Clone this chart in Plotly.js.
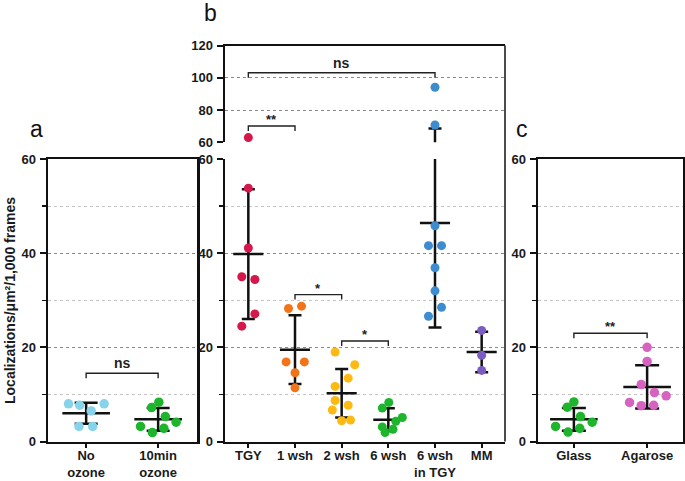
<!DOCTYPE html>
<html><head><meta charset="utf-8">
<script src="https://cdn.plot.ly/plotly-3.0.1.min.js"></script>
<style>body{margin:0;background:#fff}#chart{width:685px;height:481px}</style>
</head><body><div id="chart"></div>
<script>
// ---------- Panel a ----------
const catsA = ['No<br>ozone', '10min<br>ozone'];
const noOzone = [8.0, 7.7, 8.0, 6.5, 3.2, 3.2];
const noOzoneJit = [-0.245, -0.09, 0.25, 0.07, -0.1, 0.09];
const ozone10 = [7.2, 8.35, 5.3, 4.1, 3.2, 1.9, 2.8];
const ozone10Jit = [-0.09, 0.01, 0.10, 0.25, -0.245, -0.08, 0.08];
const meanA = [6.0, 4.7];
const sdA = [2.25, 2.4];
const sigA = [{from: 0, to: 1, level: 14.5, label: 'ns'}];

// ---------- Panel b ----------
const catsB = ['TGY', '1 wsh', '2 wsh', '6 wsh', '6 wsh<br>in TGY', 'MM'];
const tgy = [62.9, 53.8, 41.1, 35.0, 34.4, 27.1, 24.5];
const tgyJit = [0, 0, 0, -0.14, 0.14, 0.14, -0.14];
const wsh1 = [28.25, 28.75, 16.9, 16.9, 14.6, 11.4];
const wsh1Jit = [-0.14, 0.14, -0.19, 0.2, 0, 0];
const wsh2 = [19.0, 16.3, 11.7, 13.45, 8.7, 7.7, 6.7, 4.4, 4.55];
const wsh2Jit = [-0.14, 0.28, -0.14, 0.14, -0.14, 0.14, -0.2, 0, 0.19];
const wsh6 = [8.3, 7.1, 5.1, 4.3, 3.1, 2.6, 1.9];
const wsh6Jit = [0.01, -0.13, 0.3, 0.16, -0.13, 0.1, -0.07];
const wsh6TGY = [94.1, 70.7, 45.8, 41.6, 41.6, 36.9, 32.0, 28.5, 26.6];
const wsh6TGYJit = [0, 0, 0, -0.14, 0.14, 0, 0, 0.14, -0.14];
const mm = [23.6, 18.3, 15.1];
const mmJit = [0, 0, 0];
const meanB = [39.8, 19.5, 10.25, 4.64, 46.4, 19.0];
const sdB = [13.8, 7.3, 5.15, 2.4, 22.2, 4.3];
const sigB = [
  {from: 0, to: 4, level: 103.1, label: 'ns', upper: true},
  {from: 0, to: 1, level: 70.1, label: '**', upper: true},
  {from: 1, to: 2, level: 31.2, label: '*'},
  {from: 2, to: 3, level: 21.35, label: '*'}
];

// ---------- Panel c ----------
const catsC = ['Glass', 'Agarose'];
const glass = [7.3, 8.4, 5.3, 4.1, 3.2, 2.0, 2.8];
const glassJit = [-0.09, 0, 0.09, 0.25, -0.25, -0.08, 0.08];
const agarose = [20.0, 17.0, 12.1, 10.4, 9.7, 8.3, 7.6, 7.7];
const agaroseJit = [0, 0, -0.08, 0.1, 0.26, -0.24, -0.08, 0.09];
const meanC = [4.7, 11.6];
const sdC = [2.4, 4.6];
const sigC = [{from: 0, to: 1, level: 23.0, label: '**'}];

// ---------- styles ----------
const W = 685, H = 481;
const FONT = 'Liberation Sans, Arial, Helvetica, sans-serif';
const COL = {
  lightblue: '#86d3ea', green: '#1db52c', crimson: '#d5174b', orange: '#f2741a',
  gold: '#fdba12', blue: '#3d8ccf', purple: '#7b5dc2', pink: '#d763c0'
};
const px = v => v / W, py = v => (H - v) / H;
const domA = [px(48), px(197)], domB = [px(225), px(505)], domC = [px(538), px(683)];
const domLow = [py(441.5), py(159)], domUp = [py(142.3), py(45.5)];

const traces = [];
function meanTrace(means, sds, xa, ya, size, cap) {
  return {type: 'scatter', mode: 'markers', x: means.map((_, i) => i), y: means,
    xaxis: xa, yaxis: ya, hoverinfo: 'skip', cliponaxis: true, showlegend: false,
    marker: {symbol: 'line-ew', size: size, color: '#111', line: {width: 2.5, color: '#111'}},
    error_y: {type: 'data', array: sds, visible: true, color: '#111', thickness: 2.5, width: cap}};
}
function ptsTrace(vals, jit, idx, color, xa, ya, size) {
  return {type: 'scatter', mode: 'markers', x: vals.map((_, i) => idx + jit[i]), y: vals,
    xaxis: xa, yaxis: ya, hoverinfo: 'skip', cliponaxis: true, showlegend: false,
    marker: {color: color, size: size, line: {width: 0}}};
}
// panel a
traces.push(meanTrace(meanA, sdA, 'x', 'y', 34, 11.5));
traces.push(ptsTrace(noOzone, noOzoneJit, 0, COL.lightblue, 'x', 'y', 9.5));
traces.push(ptsTrace(ozone10, ozone10Jit, 1, COL.green, 'x', 'y', 9.5));
// panel b (lower x2/y2 and upper x3/y3)
const groupsB = [[tgy, tgyJit, COL.crimson], [wsh1, wsh1Jit, COL.orange], [wsh2, wsh2Jit, COL.gold],
  [wsh6, wsh6Jit, COL.green], [wsh6TGY, wsh6TGYJit, COL.blue], [mm, mmJit, COL.purple]];
[['x2', 'y2'], ['x3', 'y3']].forEach(([xa, ya]) => {
  traces.push(meanTrace(meanB, sdB, xa, ya, 21.5, 6.5));
  groupsB.forEach(([v, j, c], i) => traces.push(ptsTrace(v, j, i, c, xa, ya, 9)));
});
// panel c
traces.push(meanTrace(meanC, sdC, 'x4', 'y4', 34, 12));
traces.push(ptsTrace(glass, glassJit, 0, COL.green, 'x4', 'y4', 9.5));
traces.push(ptsTrace(agarose, agaroseJit, 1, COL.pink, 'x4', 'y4', 9.5));

// ---------- axes ----------
const tickfont = {family: FONT, size: 13, color: '#1a1a1a', weight: 'bold'};
function xAx(domain, range, cats, anchor, mirror) {
  return {domain: domain, range: range, anchor: anchor, tickvals: cats.map((_, i) => i), ticktext: cats,
    showline: true, linewidth: 2.5, linecolor: '#111', mirror: mirror, ticks: 'outside', ticklen: 4,
    tickwidth: 2, tickcolor: '#111', showgrid: false, zeroline: false, tickfont: tickfont, fixedrange: true,
    ticklabelstandoff: -4};
}
function yAx(domain, range, anchor, mirror, minor) {
  const ax = {domain: domain, range: range, anchor: anchor, dtick: 20, tick0: 0,
    showline: true, linewidth: 2.5, linecolor: '#111', mirror: mirror, ticks: 'outside', ticklen: 6,
    tickwidth: 2, tickcolor: '#111', showgrid: true, gridcolor: '#8a8a8a', griddash: 'dot', gridwidth: 1,
    zeroline: false, tickfont: tickfont, fixedrange: true, ticklabelstandoff: 1};
  if (minor) ax.minor = {dtick: 10, ticks: 'outside', ticklen: 4, tickwidth: 1.5, tickcolor: '#111',
    showgrid: true, gridcolor: '#c4c4c4', griddash: 'dot', gridwidth: 1};
  return ax;
}
const layout = {
  width: W, height: H, margin: {l: 0, r: 0, t: 0, b: 0}, paper_bgcolor: '#fff', plot_bgcolor: 'rgba(0,0,0,0)',
  showlegend: false, font: {family: FONT, color: '#1a1a1a'},
  xaxis: xAx(domA, [-0.53, 1.54], catsA, 'y', true),
  yaxis: yAx(domLow, [0, 60], 'x', true, true),
  xaxis2: xAx(domB, [-0.5, 5.5], catsB, 'y2', false),
  yaxis2: yAx(domLow, [0, 60], 'x2', false, true),
  xaxis3: Object.assign(xAx(domB, [-0.5, 5.5], catsB, 'y3', false),
    {side: 'top', ticks: '', showticklabels: false, linewidth: 1.5}),
  yaxis3: yAx(domUp, [60, 120], 'x3', false, false),
  xaxis4: xAx(domC, [-0.49, 1.49], catsC, 'y4', true),
  yaxis4: yAx(domLow, [0, 60], 'x4', true, true),
  shapes: [], annotations: []
};
// right border of panel b (spans the broken axis)
layout.shapes.push({type: 'line', xref: 'paper', yref: 'paper', x0: domB[1], x1: domB[1],
  y0: domLow[0], y1: domUp[1], line: {color: '#111', width: 1.5}});

function addSig(list, xa, ya, pxPerUnit) {
  list.forEach(s => {
    const drop = 5 / pxPerUnit;
    layout.shapes.push({type: 'path', xref: xa, yref: ya,
      path: `M${s.from},${s.level - drop} L${s.from},${s.level} L${s.to},${s.level} L${s.to},${s.level - drop}`,
      line: {color: '#222', width: 1.4}});
    layout.annotations.push({xref: xa, yref: ya, x: (s.from + s.to) / 2, y: s.level, text: s.label,
      showarrow: false, yanchor: 'bottom', yshift: s.label === 'ns' ? 0 : -3,
      font: {family: FONT, size: s.label === 'ns' ? 14 : 13, color: '#222', weight: 'bold'}});
  });
}
const lowPx = (441.5 - 159) / 60, upPx = (142.3 - 45.5) / 60;
addSig(sigA, 'x', 'y', lowPx);
sigB.forEach(s => addSig([s], s.upper ? 'x3' : 'x2', s.upper ? 'y3' : 'y2', s.upper ? upPx : lowPx));
addSig(sigC, 'x4', 'y4', lowPx);

// panel letters and y-axis title
[['a', 36.7, 129.3], ['b', 210, 12.7], ['c', 521.7, 129.3]].forEach(([t, x, y]) =>
  layout.annotations.push({xref: 'paper', yref: 'paper', x: px(x), y: py(y), text: t, showarrow: false,
    xanchor: 'center', yanchor: 'middle', font: {family: FONT, size: 23, color: '#111'}}));
layout.annotations.push({xref: 'paper', yref: 'paper', x: px(10), y: py(301),
  text: 'Localizations/μm²/1,000 frames', textangle: -90, showarrow: false,
  xanchor: 'center', yanchor: 'middle', font: {family: FONT, size: 14, color: '#1a1a1a', weight: 'bold'}});

Plotly.newPlot('chart', traces, layout, {displayModeBar: false, staticPlot: true});
</script></body></html>
